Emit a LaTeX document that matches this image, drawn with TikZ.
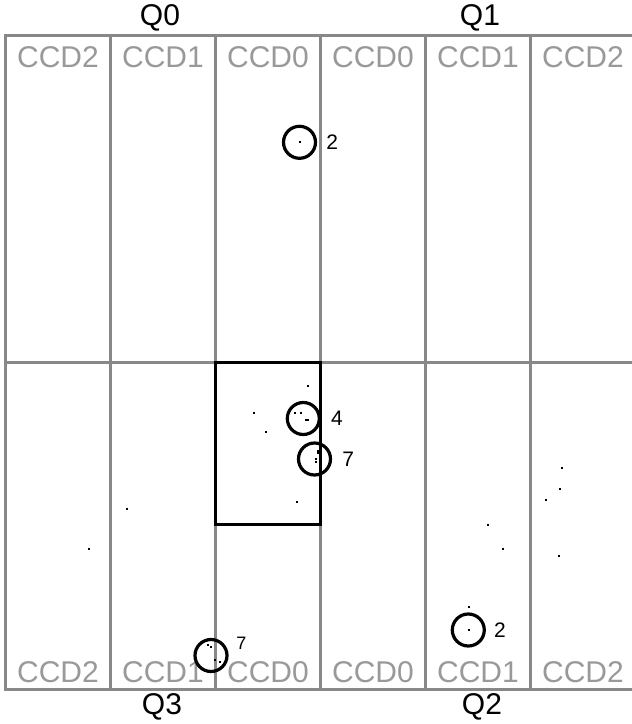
\documentclass[tikz,border=0pt]{standalone}
\usepackage{fontspec}
\setmainfont{Liberation Sans}
\usetikzlibrary{positioning}
\definecolor{gridgray}{RGB}{136,136,136}
\definecolor{ccdgray}{RGB}{153,153,153}

\begin{document}
\begin{tikzpicture}[x=1pt,y=-1pt,
    grid/.style={draw=gridgray, line width=3pt},
    ccd/.style={text=ccdgray, font=\fontsize{30}{30}\selectfont, inner sep=0pt},
    quad/.style={font=\fontsize{30}{30}\selectfont, inner sep=0pt},
    ring/.style={draw, circle, line width=3.2pt, minimum size=32pt, inner sep=0pt},
    cnt/.style={font=\fontsize{21}{21}\selectfont, inner sep=0pt}]
    \useasboundingbox (0,0) rectangle (632,724);
    \clip (0,0) rectangle (632,724);

    % chips
    \draw[grid] (5.5,35) rectangle (635.5,689);
    \draw[grid] (5.5,362) -- (635.5,362);
    \foreach \x in {110.5,215.5,320.5,425.5,530.5}
        \draw[grid] (\x,35) -- (\x,689);

    \foreach \name [count=\i from 0] in {CCD2,CCD1,CCD0,CCD0,CCD1,CCD2} {
        \node[ccd] (top\i) at (58+105*\i,57) {\name};
        \node[ccd] (bot\i) at (58+105*\i,672.5) {\name};
    }
    \node[quad] (q0) at (160,18) {Q0};
    \node[quad] (q1) at (480,18) {Q1};
    \node[quad] (q3) at (162,707) {Q3};
    \node[quad] (q2) at (482,707) {Q2};

    % window
    \draw[line width=3pt] (215.5,362) rectangle (320.5,524.5);

    % events
    \foreach \p in {(300,142.3),(307.7,385.7),(253.7,413.3),(265.7,431.7),
        (295,413.3),(301,413.3),(305.5,420),(307.5,420),(318,450.7),(318,452.5),
        (316,458.5),(315.5,461.5),(296.7,502),(561.7,467.7),(559.7,489),
        (545.7,500),(488,525),(502.7,549),(558.7,555.7),(469,606.7),(469,630),
        (126.7,509),(88.7,549),(208.3,645),(210.7,646.7),(215,659.5),(220,661.7)}
        \fill \p +(-1,-1) rectangle +(1,1);

    \node[ring] (ringA) at (299.5,142.3) {};
    \node[cnt, right=9pt of ringA] (numA) {2};
    \node[ring] (ringB) at (303.3,418.5) {};
    \node[cnt, right=10pt of ringB] (numB) {4};
    \node[ring] (ringC) at (314.5,459) {};
    \node[cnt, right=10pt of ringC] (numC) {7};
    \node[ring] (ringD) at (468.3,630) {};
    \node[cnt, right=8pt of ringD] (numD) {2};
    \node[ring] (ringE) at (211,655.5) {};
    \node[cnt, font=\fontsize{18}{18}\selectfont] (numE) at (241.5,643) {7};
\end{tikzpicture}
\end{document}
